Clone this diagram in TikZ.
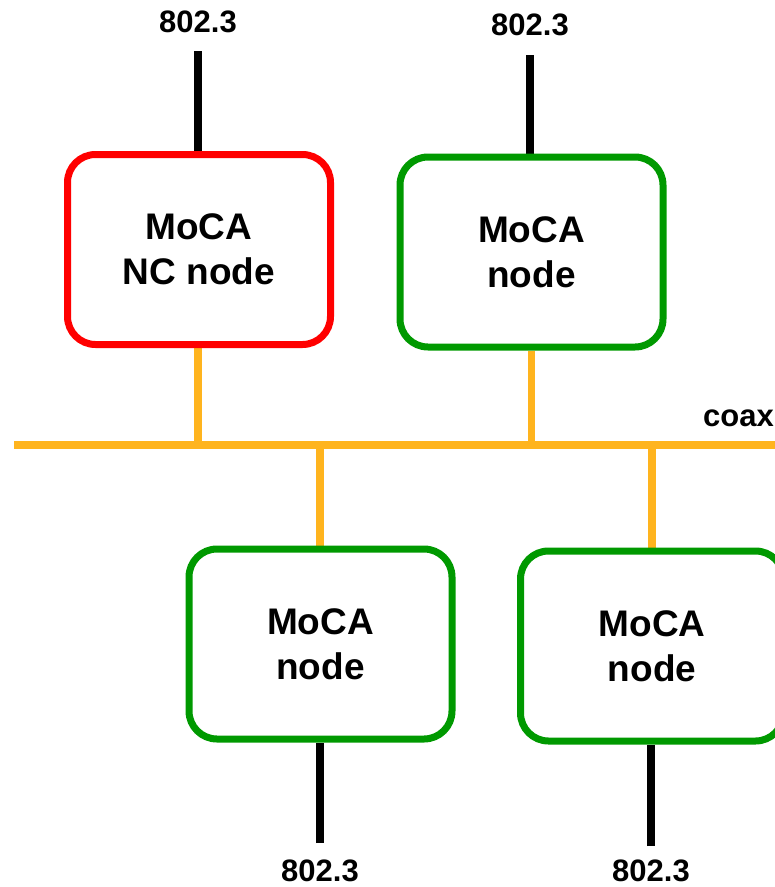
\documentclass[tikz,border=0pt]{standalone}
\usepackage{fontspec}
\setmainfont{Liberation Sans}
\usetikzlibrary{backgrounds}
\definecolor{ncred}{RGB}{255,0,0}
\definecolor{mgreen}{RGB}{0,153,0}
\definecolor{coaxor}{RGB}{255,180,30}
\tikzset{
  mocabox/.style={draw, line width=7pt, fill=white, rounded corners=28pt,
    minimum width=263pt, minimum height=190pt, inner sep=0pt, align=center,
    font=\fontsize{37}{45}\selectfont\bfseries},
  nclr/.style={mocabox, draw=ncred},
  nodebox/.style={mocabox, draw=mgreen},
  ethline/.style={draw=black, line width=8pt},
  coaxline/.style={draw=coaxor, line width=7.5pt},
  lbl/.style={inner sep=0pt, font=\fontsize{31}{34}\selectfont\bfseries}
}
\begin{document}
\begin{tikzpicture}[x=1pt,y=-1pt]
\useasboundingbox (0,0) rectangle (775,887);
% boxes
\node[nclr] (b1) at (199,249.5) {MoCA\\NC node};
\node[nodebox] (b2) at (531.5,252) {MoCA\\node};
\node[nodebox] (b3) at (320.5,644) {MoCA\\node};
\node[nodebox] (b4) at (652,646) {MoCA\\node};
% labels
\node[lbl] (l1) at (198,22) {802.3};
\node[lbl] (l2) at (530,25) {802.3};
\node[lbl] (l3) at (320,871) {802.3};
\node[lbl] (l4) at (651,871) {802.3};
\node[lbl, anchor=base east] (lc) at (774,426) {coax};
% free ends
\coordinate (e1) at (198,51);
\coordinate (e2) at (530,55);
\coordinate (e3) at (320,843);
\coordinate (e4) at (651,846);
\coordinate (cl) at (14,445);
\coordinate (cr) at (780,445);
\begin{scope}[on background layer]
  \draw[ethline] (e1) -- (e1 |- b1.north);
  \draw[ethline] (e2) -- (e2 |- b2.north);
  \draw[ethline] (e3) -- (e3 |- b3.south);
  \draw[ethline] (e4) -- (e4 |- b4.south);
  \draw[coaxline] (cl) -- (cr);
  \draw[coaxline] (e1 |- b1.south) -- (e1 |- cl);
  \draw[coaxline] (b2.south) -- (b2.south |- cl);
  \draw[coaxline] (e3 |- b3.north) -- (e3 |- cl);
  \draw[coaxline] (b4.north) -- (b4.north |- cl);
\end{scope}
\end{tikzpicture}
\end{document}
